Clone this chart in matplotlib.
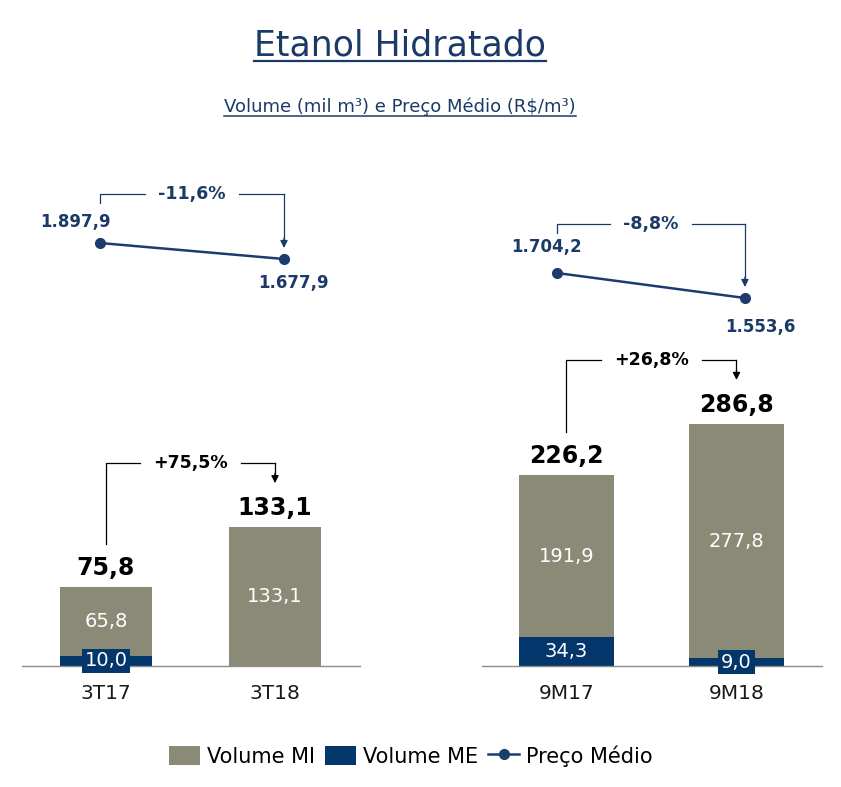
import matplotlib
matplotlib.use('Agg')
import matplotlib.pyplot as plt
from matplotlib.lines import Line2D
from matplotlib.patches import Patch

plt.rcParams['font.family'] = ['DejaVu Sans']

# ---------------- data ----------------
periods_q = ['3T17', '3T18']
mi_q = [65.8, 133.1]
me_q = [10.0, 0.0]
tot_q = [75.8, 133.1]
price_q = [1897.9, 1677.9]
vol_var_q = '+75,5%'
price_var_q = '-11,6%'

periods_9m = ['9M17', '9M18']
mi_9m = [191.9, 277.8]
me_9m = [34.3, 9.0]
tot_9m = [226.2, 286.8]
price_9m = [1704.2, 1553.6]
vol_var_9m = '+26,8%'
price_var_9m = '-8,8%'

title = 'Etanol Hidratado'
subtitle = 'Volume (mil m³) e Preço Médio (R$/m³)'
legend_labels = ['Volume MI', 'Volume ME', 'Preço Médio']

# ---------------- style ----------------
C_MI = '#8B8A77'
C_ME = '#03366B'
C_LINE = '#1D3C6E'
C_NAVY = '#1B3A68'
C_AXIS = '#8C8C8C'

W, H = 841, 787
fig = plt.figure(figsize=(W / 100, H / 100), dpi=100)


def px_axes(x0, y0, x1, y1):
    ax = fig.add_axes([x0 / W, 1 - y1 / H, (x1 - x0) / W, (y1 - y0) / H])
    ax.patch.set_visible(False)
    return ax


def fmt(v):
    s = f'{v:,.1f}'
    return s.replace(',', 'X').replace('.', ',').replace('X', '.')


def bar_panel(ax, periods, mi, me, tot, ymax, width):
    x = list(range(len(periods)))
    ax.bar(x, me, width, color=C_ME, zorder=2)
    ax.bar(x, mi, width, bottom=me, color=C_MI, zorder=2)
    ax.set_xlim(-0.497, 1.503)
    ax.set_ylim(0, ymax)
    for s in ['top', 'right', 'left']:
        ax.spines[s].set_visible(False)
    ax.spines['bottom'].set_color(C_AXIS)
    ax.spines['bottom'].set_linewidth(1.0)
    ax.set_yticks([])
    ax.set_xticks(x)
    ax.set_xticklabels(periods, fontsize=14.5, color='#1a1a1a')
    ax.tick_params(axis='x', length=0, pad=13)
    for i in x:
        ax.annotate(fmt(tot[i]), (i, tot[i]), xytext=(0, 19), textcoords='offset pixels',
                    ha='center', va='center', fontsize=17, fontweight='bold', color='black')
        ax.text(i, me[i] + mi[i] / 2, fmt(mi[i]), ha='center', va='center',
                fontsize=14, color='white', zorder=3)
        if me[i] > 0:
            ax.text(i, me[i] / 2, fmt(me[i]), ha='center', va='center', fontsize=14,
                    color='white', zorder=4, clip_on=False,
                    bbox=dict(boxstyle='square,pad=0.14', fc=C_ME, ec='none'))


def price_panel(ax, price, xlim, ylim, lab_offsets):
    x = list(range(len(price)))
    ax.plot(x, price, color=C_LINE, lw=1.8, marker='o', markersize=7,
            markerfacecolor=C_LINE, markeredgecolor=C_LINE, clip_on=False)
    ax.set_xlim(*xlim)
    ax.set_ylim(*ylim)
    ax.axis('off')
    for i in x:
        ax.annotate(fmt(price[i]), (i, price[i]), xytext=lab_offsets[i],
                    textcoords='offset pixels', ha='center', va='center',
                    fontsize=12, fontweight='bold', color=C_NAVY)


def to_px(ax, x, y):
    dx, dy = ax.transData.transform((x, y))
    return dx, H - dy


def draw_bracket(xs, y_start, xe, y_level, y_tip, text, color, fs):
    xm = (xs + xe) / 2
    t = fig.text(xm / W, 1 - y_level / H, text, ha='center', va='center',
                 fontsize=fs, fontweight='bold', color=color)
    r = fig.canvas.get_renderer()
    bb = t.get_window_extent(renderer=r)
    gl = bb.x0 - 13
    gr = bb.x1 + 13
    f = lambda px, py: (px / W, 1 - py / H)
    a = f(xs, y_start); b = f(xs, y_level); c = f(gl, y_level)
    fig.add_artist(Line2D([a[0], b[0], c[0]], [a[1], b[1], c[1]], color=color, lw=0.9))
    d = f(gr, y_level); e = f(xe, y_level)
    fig.add_artist(Line2D([d[0], e[0]], [d[1], e[1]], color=color, lw=0.9))
    tip = f(xe, y_tip)
    fig.add_artist(Line2D([e[0], e[0]], [e[1], 1 - (y_tip - 9) / H], color=color, lw=0.9))
    plt.annotate('', xy=tip, xytext=(e[0], 1 - (y_tip - 10) / H), xycoords='figure fraction',
                 textcoords='figure fraction',
                 arrowprops=dict(arrowstyle='-|>', color=color, lw=0.9,
                                 mutation_scale=11, shrinkA=0, shrinkB=0))


# ---------------- panels ----------------
axL = px_axes(22, 666 - 200 * 1.043, 360, 666)
bar_panel(axL, periods_q, mi_q, me_q, tot_q, 200, 0.55)

axR = px_axes(482, 666 - 370 * 0.844, 822, 666)
bar_panel(axR, periods_9m, mi_9m, me_9m, tot_9m, 370, 0.56)

apL = px_axes(22, 180, 360, 300)
price_panel(apL, price_q, (-0.424, 1.413), (1114.2, 2764.1), [(-25, 21), (9, -24)])

apR = px_axes(482, 180, 822, 340)
price_panel(apR, price_9m, (-0.399, 1.410), (1300.6, 2264.4), [(-10, 26), (15, -29)])

# ---------------- brackets ----------------
for ax, tot, txt in [(axL, tot_q, vol_var_q), (axR, tot_9m, vol_var_9m)]:
    xs, ys = to_px(ax, 0, tot[0])
    xe, ye = to_px(ax, 1, tot[1])
    draw_bracket(xs, ys - 43, xe, ye - 64, ye - 44, txt, 'black', 12.5)

for ax, pr, txt in [(apL, price_q, price_var_q), (apR, price_9m, price_var_9m)]:
    xs, ys = to_px(ax, 0, pr[0])
    xe, ye = to_px(ax, 1, pr[1])
    draw_bracket(xs, ys - 40, xe, ys - 49, ye - 11, txt, C_NAVY, 12.5)

# ---------------- titles ----------------
r = fig.canvas.get_renderer()
t1 = fig.text(400 / W, 1 - 55 / H, title, ha='center', va='baseline', fontsize=25, color=C_NAVY)
t2 = fig.text(400 / W, 1 - 112 / H, subtitle, ha='center', va='baseline', fontsize=13, color=C_NAVY)
for t, uy, lw in [(t1, 61, 1.6), (t2, 116, 1.1)]:
    bb = t.get_window_extent(renderer=r)
    fig.add_artist(Line2D([bb.x0 / W, bb.x1 / W], [1 - uy / H, 1 - uy / H], color=C_NAVY, lw=lw))

# ---------------- legend ----------------
handles = [Patch(facecolor=C_MI, edgecolor='none'),
           Patch(facecolor=C_ME, edgecolor='none'),
           Line2D([0], [0], color=C_LINE, lw=1.8, marker='o', markersize=7)]
fig.legend(handles, legend_labels, loc='center', bbox_to_anchor=(411 / W, 1 - 756 / H),
           ncol=3, frameon=False, fontsize=15, handlelength=1.45, handleheight=1.05,
           handletextpad=0.35, columnspacing=0.5)

fig.savefig('out.png', dpi=100, facecolor='white')
